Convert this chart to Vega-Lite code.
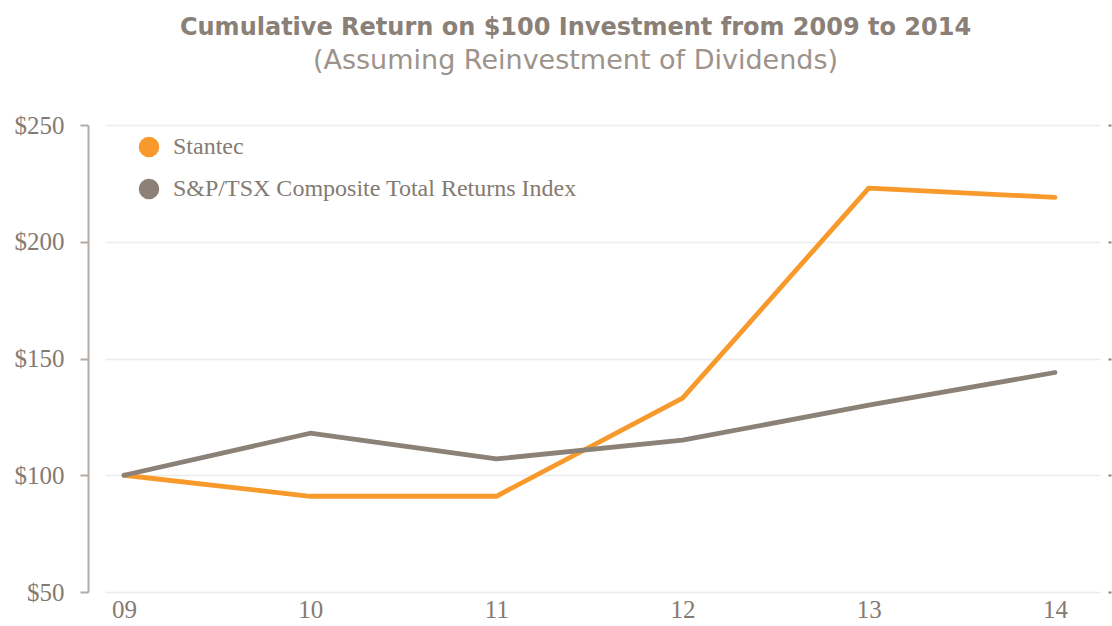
{
  "$schema": "https://vega.github.io/schema/vega-lite/v6.json",
  "width": 995,
  "height": 467,
  "autosize": {"type": "none"},
  "padding": {"left": 105, "top": 125, "right": 12, "bottom": 34},
  "background": "white",
  "config": {"view": {"stroke": null}},
  "title": {
    "text": "Cumulative Return on $100 Investment from 2009 to 2014",
    "subtitle": "(Assuming Reinvestment of Dividends)",
    "anchor": "middle",
    "dx": -27,
    "offset": 39,
    "font": "DejaVu Sans",
    "fontSize": 24,
    "fontWeight": "bold",
    "color": "#8a8077",
    "subtitleFont": "DejaVu Sans",
    "subtitleFontSize": 27,
    "subtitleColor": "#9c938b",
    "subtitlePadding": 8
  },
  "data": {
    "values": [
      {"year": 2009, "series": "Stantec", "value": 100},
      {"year": 2010, "series": "Stantec", "value": 91},
      {"year": 2011, "series": "Stantec", "value": 91},
      {"year": 2012, "series": "Stantec", "value": 133},
      {"year": 2013, "series": "Stantec", "value": 223},
      {"year": 2014, "series": "Stantec", "value": 219},
      {"year": 2009, "series": "S&P/TSX Composite Total Returns Index", "value": 100},
      {"year": 2010, "series": "S&P/TSX Composite Total Returns Index", "value": 118},
      {"year": 2011, "series": "S&P/TSX Composite Total Returns Index", "value": 107},
      {"year": 2012, "series": "S&P/TSX Composite Total Returns Index", "value": 115},
      {"year": 2013, "series": "S&P/TSX Composite Total Returns Index", "value": 130},
      {"year": 2014, "series": "S&P/TSX Composite Total Returns Index", "value": 144}
    ]
  },
  "layer": [
    {
      "mark": {"type": "line", "strokeWidth": 4.8, "strokeCap": "round", "strokeJoin": "round"},
      "encoding": {
        "x": {
          "field": "year", "type": "quantitative",
          "scale": {"domain": [2008.898, 2014.242], "nice": false, "zero": false},
          "axis": {
            "title": null, "values": [2009, 2010, 2011, 2012, 2013, 2014],
            "labelExpr": "slice(toString(datum.value), 2)",
            "domain": false, "ticks": false, "grid": false,
            "labelFont": "Liberation Serif", "labelFontSize": 25, "labelColor": "#857a72",
            "labelPadding": 5, "labelFlush": false
          }
        },
        "y": {
          "field": "value", "type": "quantitative",
          "scale": {"domain": [50, 250], "nice": false, "zero": false},
          "axis": {
            "title": null, "values": [50, 100, 150, 200, 250],
            "format": "$d",
            "offset": 17,
            "domainColor": "#b3aba6", "domainWidth": 2,
            "tickColor": "#b3aba6", "tickWidth": 2, "tickSize": 8,
            "grid": true, "gridColor": "#ececec", "gridWidth": 1.5,
            "labelFont": "Liberation Serif", "labelFontSize": 25, "labelColor": "#857a72",
            "labelPadding": 16
          }
        },
        "color": {
          "field": "series", "type": "nominal",
          "scale": {
            "domain": ["Stantec", "S&P/TSX Composite Total Returns Index"],
            "range": ["#f8992c", "#8b8177"]
          },
          "legend": {
            "orient": "none", "legendX": 32, "legendY": 10,
            "title": null,
            "symbolType": "circle", "symbolSize": 420,
            "labelFont": "Liberation Serif", "labelFontSize": 24, "labelColor": "#857a72",
            "labelOffset": 12, "rowPadding": 18, "labelLimit": 600,
            "encode": {
              "symbols": {
                "update": {
                  "fill": {"scale": "color", "field": "value"},
                  "strokeWidth": {"value": 0}
                }
              }
            }
          }
        }
      }
    },
    {
      "mark": {"type": "line", "opacity": 0},
      "encoding": {
        "x": {"field": "year", "type": "quantitative"},
        "y": {
          "field": "value", "type": "quantitative",
          "scale": {"domain": [50, 250], "nice": false, "zero": false},
          "axis": {
            "orient": "right", "title": null, "values": [50, 100, 150, 200, 250],
            "offset": 8, "domain": false, "labels": false, "grid": false,
            "tickColor": "#8b8177", "tickSize": 3, "tickWidth": 2
          }
        },
        "detail": {"field": "series"}
      }
    }
  ],
  "resolve": {"scale": {"y": "independent"}}
}
